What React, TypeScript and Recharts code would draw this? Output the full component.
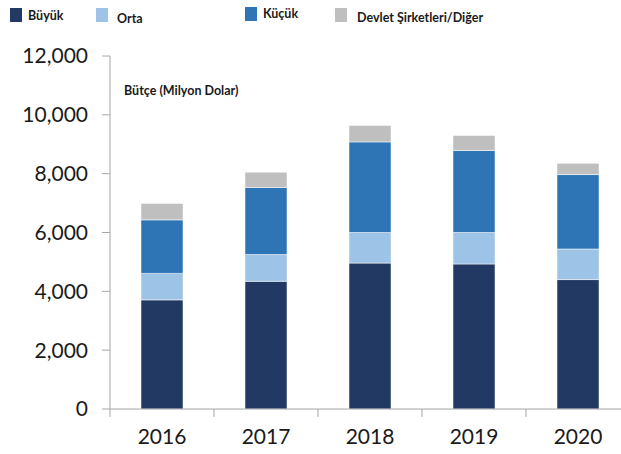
/** Stacked bar chart: yearly budget by company size. */

import { BarChart, Bar, XAxis, YAxis } from 'recharts'

const years = ['2016', '2017', '2018', '2019', '2020']
const buyuk = [3710, 4340, 4960, 4930, 4400]
const orta = [900, 910, 1040, 1070, 1040]
const kucuk = [1820, 2280, 3080, 2790, 2530]
const devlet = [560, 520, 560, 510, 380]
const yTicks = [0, 2000, 4000, 6000, 8000, 10000, 12000]

const SERIES = [
  { key: 'buyuk', name: 'Büyük', color: '#223A63', values: buyuk },
  { key: 'orta', name: 'Orta', color: '#9DC3E6', values: orta },
  { key: 'kucuk', name: 'Küçük', color: '#2E75B6', values: kucuk },
  { key: 'devlet', name: 'Devlet Şirketleri/Diğer', color: '#BFBFBF', values: devlet },
]

// legend slot positions (x of swatch, y of swatch)
const LEGEND_POS = [
  { x: 10, y: 8, ty: 6 },
  { x: 96, y: 8, ty: 9 },
  { x: 245, y: 7, ty: 5 },
  { x: 335, y: 8, ty: 8 },
]

const FONT = 'Lato, "Open Sans", sans-serif'
const AXIS = '#A6A6A6'

const rows = years.map((y, i) => ({
  year: y,
  ...Object.fromEntries(SERIES.map((s) => [s.key, s.values[i]])),
}))

function XTick(props: any) {
  const { x, y, payload } = props
  const half = 52
  return (
    <g>
      <line x1={x - half} y1={y - 8} x2={x - half} y2={y} stroke={AXIS} strokeWidth={1} />
      <text x={x} y={y + 27} textAnchor="middle" fontSize={21} fill="#1a1a1a" fontFamily={FONT}>
        {payload.value}
      </text>
    </g>
  )
}

export default function App() {
  return (
    <div style={{ position: 'absolute', left: 0, top: 0, width: 621, height: 454, overflow: 'hidden', background: '#fff' }}>
      <BarChart
        width={630}
        height={454}
        data={rows}
        margin={{ top: 56, right: 0, left: 0, bottom: 0 }}
        barSize={42}
      >
        <XAxis
          dataKey="year"
          height={45}
          axisLine={{ stroke: AXIS }}
          tickLine={false}
          tick={<XTick />}
          interval={0}
        />
        <YAxis
          width={110}
          domain={[0, 12000]}
          ticks={yTicks}
          tickFormatter={(v) => v.toLocaleString('en-US')}
          axisLine={{ stroke: AXIS }}
          tickLine={{ stroke: AXIS }}
          tickSize={8}
          tickMargin={14}
          tick={{ fontSize: 21, fill: '#1a1a1a', fontFamily: FONT }}
        />
        {SERIES.map((s) => (
          <Bar
            key={s.key}
            dataKey={s.key}
            stackId="a"
            fill={s.color}
            stroke="#ffffff"
            strokeWidth={0.5}
            name={s.name}
            isAnimationActive={false}
          />
        ))}
      </BarChart>
      {SERIES.map((s, i) => (
        <div key={s.key} style={{ position: 'absolute', left: LEGEND_POS[i].x, top: LEGEND_POS[i].y }}>
          <div style={{ width: 12, height: 14, background: s.color, position: 'absolute', left: 0, top: 0 }} />
          <div
            style={{
              position: 'absolute',
              left: i === 3 ? 22 : i === 1 ? 21 : 18,
              top: LEGEND_POS[i].ty - 6,
              fontFamily: FONT,
              fontWeight: 700,
              fontSize: 12.5,
              color: '#1a1a1a',
              whiteSpace: 'nowrap',
            }}
          >
            {s.name}
          </div>
        </div>
      ))}
      <div
        style={{
          position: 'absolute',
          left: 124,
          top: 83,
          fontFamily: FONT,
          fontWeight: 700,
          fontSize: 12.5,
          color: '#1a1a1a',
          whiteSpace: 'nowrap',
        }}
      >
        Bütçe (Milyon Dolar)
      </div>
    </div>
  )
}
